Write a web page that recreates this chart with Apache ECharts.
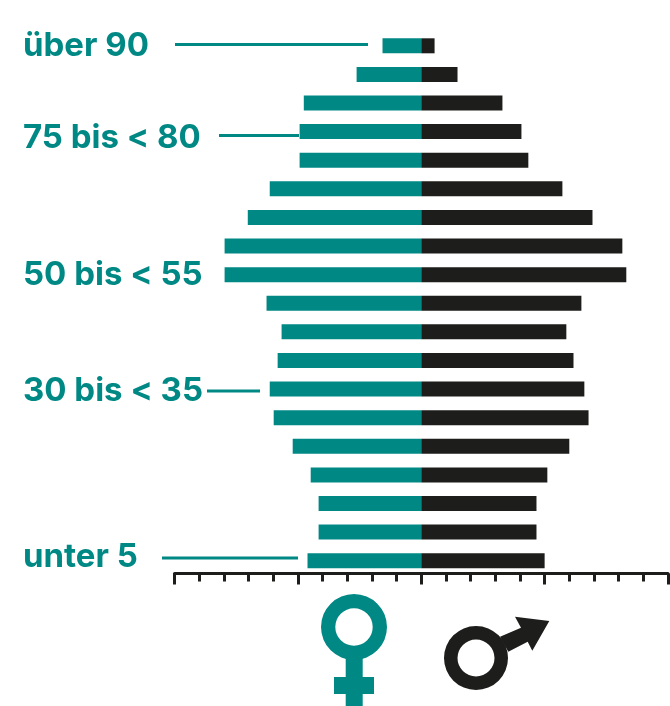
<!DOCTYPE html>
<html><head><meta charset="utf-8">
<style>html,body{margin:0;padding:0;background:#fff}#c{width:670px;height:706px}</style>
<script src="https://cdn.jsdelivr.net/npm/echarts@6/dist/echarts.min.js"></script>
</head><body><div id="c"></div>
<script>
const ageGroups = ['unter 5','5 bis < 10','10 bis < 15','15 bis < 20','20 bis < 25','25 bis < 30','30 bis < 35','35 bis < 40','40 bis < 45','45 bis < 50','50 bis < 55','55 bis < 60','60 bis < 65','65 bis < 70','70 bis < 75','75 bis < 80','80 bis < 85','85 bis < 90','über 90'];
const women = [4.61,4.16,4.16,4.48,5.21,5.98,6.14,5.82,5.66,6.27,7.97,7.97,7.03,6.14,4.93,4.93,4.76,2.62,1.57];
const men = [5.0,4.67,4.67,5.11,6.0,6.78,6.61,6.17,5.88,6.49,8.31,8.15,6.94,5.72,4.34,4.06,3.29,1.47,0.54];
const shownLabels = ['unter 5','30 bis < 35','50 bis < 55','75 bis < 80','über 90'];
const TEAL='#008885', INK='#1d1d1b';
const chart = echarts.init(document.getElementById('c'),null,{renderer:'canvas'});
const line=(x1,x2,y)=>({type:'line',shape:{x1,y1:y,x2,y2:y},style:{stroke:TEAL,lineWidth:3}});
const font={fontFamily:'Inter',fontWeight:700,fontSize:33,color:TEAL};
chart.setOption({
  animation:false,
  grid:{left:174.5,right:2,top:31.5,height:543.5},
  xAxis:{type:'value',min:-10,max:10,interval:5,offset:-1.5,
    axisLine:{show:true,onZero:false,lineStyle:{color:INK,width:3}},
    axisTick:{show:true,length:11,lineStyle:{color:INK,width:3}},
    minorTick:{show:true,splitNumber:5,length:8,lineStyle:{color:INK,width:3}},
    axisLabel:{show:false},splitLine:{show:false}},
  yAxis:{type:'category',data:ageGroups,position:'left',
    axisLine:{show:false},axisTick:{show:false},splitLine:{show:false},
    axisLabel:{show:true,interval:0,align:'left',margin:151.5,...font,
      rich:{
        a0:{...font},
        a1:{...font,padding:[1,0,0,0]},
        a2:{...font,padding:[4,0,0,0]},
        a3:{...font,padding:[12,0,0,0]},
        a4:{...font,padding:[0,0,7,0]}
      },
      formatter:v=>{
        const i=shownLabels.indexOf(v);
        if(i<0) return '';
        const key={'über 90':'a0','50 bis < 55':'a1','30 bis < 35':'a2','75 bis < 80':'a3','unter 5':'a4'}[v];
        return '{'+key+'|'+v+'}';
      }}},
  series:[
    {name:'Frauen',type:'bar',stack:'p',barWidth:15,data:women.map(v=>-v),itemStyle:{color:TEAL}},
    {name:'Männer',type:'bar',stack:'q',barWidth:15,barGap:'-100%',data:men,itemStyle:{color:INK}}
  ],
  graphic:[
    line(175,368,44.5),line(219,299,135.5),line(207,260,391),line(162,298,558),
    {type:'ring',shape:{cx:354,cy:627,r:33,r0:18.7},style:{fill:TEAL}},
    {type:'rect',shape:{x:345.7,y:655,width:17,height:51},style:{fill:TEAL}},
    {type:'rect',shape:{x:334,y:677,width:40,height:17},style:{fill:TEAL}},
    {type:'ring',shape:{cx:476,cy:658,r:32,r0:18.5},style:{fill:INK}},
    {type:'polygon',shape:{points:[[500,636.7],[521,627.7],[515,616.7],[549.3,621],[532.3,650.7],[527.7,641.7],[508.3,651.7]]},style:{fill:INK}}
  ]
});
</script></body></html>
